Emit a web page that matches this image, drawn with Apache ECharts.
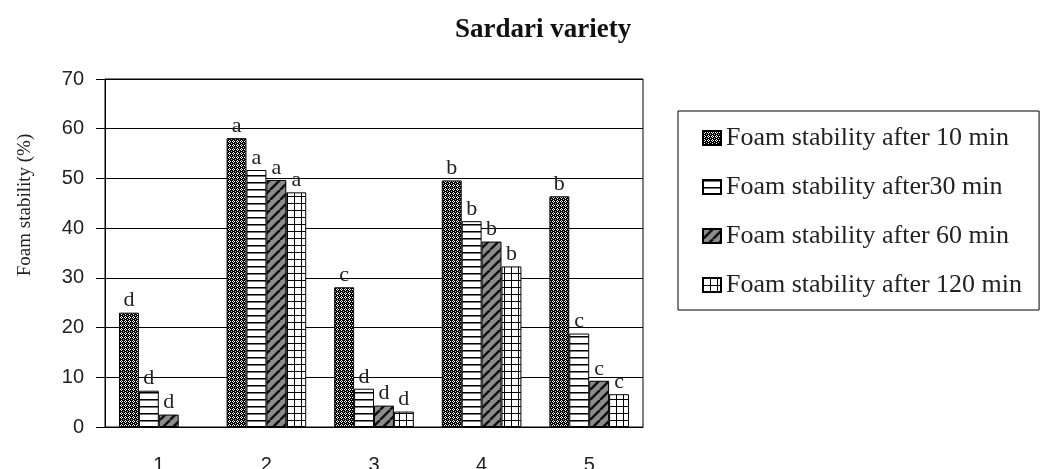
<!DOCTYPE html>
<html>
<head>
<meta charset="utf-8">
<script src="https://cdn.jsdelivr.net/npm/echarts@6/dist/echarts.min.js"></script>
<style>
  html, body { margin: 0; padding: 0; background: #fff; }
  #chart { width: 1045px; height: 469px; }
</style>
</head>
<body>
<div id="chart"></div>
<script>
const categories = ["1", "2", "3", "4", "5"];
const seriesNames = [
  "Foam stability after 10 min",
  "Foam stability after30 min",
  "Foam stability after 60 min",
  "Foam stability after 120 min"
];
const after10 = [23.0, 58.1, 28.1, 49.6, 46.4];
const after30 = [7.3, 51.7, 7.7, 41.4, 18.8];
const after60 = [2.5, 49.7, 4.3, 37.3, 9.3];
const after120 = [null, 47.2, 3.1, 32.3, 6.6];
const letters10 = ["d", "a", "c", "b", "b"];
const letters30 = ["d", "a", "d", "b", "c"];
const letters60 = ["d", "a", "d", "b", "c"];
const letters120 = ["", "a", "d", "b", "c"];

// fill patterns like the old excel hatches
function pattern(w, h, draw) {
  const c = document.createElement("canvas");
  c.width = w;
  c.height = h;
  draw(c.getContext("2d"), w, h);
  return { image: c, repeat: "repeat" };
}
const pat10 = pattern(4, 4, function (g) {
  g.fillStyle = "#000";
  g.fillRect(0, 0, 4, 4);
  g.fillStyle = "#fff";
  g.fillRect(1, 0, 1, 1);
  g.fillRect(0, 1, 1, 1);
  g.fillRect(2, 1, 1, 1);
  g.fillRect(1, 2, 1, 1);
  g.fillStyle = "#bbb";
  g.fillRect(3, 3, 1, 1);
});
const pat30 = pattern(4, 7, function (g) {
  g.fillStyle = "#fff";
  g.fillRect(0, 0, 4, 7);
  g.fillStyle = "#000";
  g.fillRect(0, 0, 4, 1);
  g.fillStyle = "#777";
  g.fillRect(0, 1, 4, 1);
});
const pat60 = pattern(10, 10, function (g, w, h) {
  g.fillStyle = "#8c8c8c";
  g.fillRect(0, 0, w, h);
  g.strokeStyle = "#111";
  g.lineWidth = 2.5;
  for (let x0 = -w; x0 <= w; x0 += w) {
    g.beginPath();
    g.moveTo(x0, h);
    g.lineTo(x0 + w, 0);
    g.stroke();
  }
});
const pat120 = pattern(7, 7, function (g) {
  g.fillStyle = "#fff";
  g.fillRect(0, 0, 7, 7);
  g.fillStyle = "#000";
  g.fillRect(0, 0, 7, 1);
  g.fillRect(0, 0, 1, 7);
});

const serif = "Liberation Serif";
const sans = "Liberation Sans";

function barSeries(name, values, letters, fill) {
  return {
    name: name,
    type: "bar",
    data: values,
    barGap: "0%",
    barCategoryGap: "26%",
    itemStyle: { color: fill, borderColor: "#000", borderWidth: 1 },
    label: {
      show: true,
      position: "top",
      distance: 1,
      fontFamily: serif,
      fontSize: 22,
      color: "#222",
      formatter: function (p) { return letters[p.dataIndex]; }
    }
  };
}

const chart = echarts.init(document.getElementById("chart"));
chart.setOption({
  animation: false,
  backgroundColor: "#fff",
  title: {
    text: "Sardari variety",
    left: 450,
    top: 12,
    textStyle: { fontFamily: serif, fontSize: 27, fontWeight: "bold", color: "#111" }
  },
  legend: {
    orient: "vertical",
    left: 678,
    top: 111,
    padding: [12, 17, 10, 24],
    borderColor: "#000",
    borderWidth: 1,
    itemWidth: 18,
    itemHeight: 14,
    itemGap: 19,
    icon: "rect",
    textStyle: { fontFamily: serif, fontSize: 26, color: "#222", lineHeight: 30 },
    data: seriesNames
  },
  grid: {
    left: 105, top: 79, width: 538, height: 348,
    outerBoundsMode: "none",
    show: true, borderColor: "#000", borderWidth: 1
  },
  xAxis: {
    type: "category",
    data: categories,
    axisLine: { lineStyle: { color: "#000", width: 1 } },
    axisTick: { length: 8, lineStyle: { color: "#000" } },
    axisLabel: { margin: 28, fontFamily: sans, fontSize: 20, color: "#222" }
  },
  yAxis: {
    type: "value",
    min: 0,
    max: 70,
    interval: 10,
    axisLine: { show: true, lineStyle: { color: "#000", width: 1 } },
    axisTick: { show: true, length: 9, lineStyle: { color: "#000" } },
    axisLabel: { margin: 21, fontFamily: sans, fontSize: 20, color: "#222" },
    splitLine: { lineStyle: { color: "#000", width: 1 } }
  },
  graphic: [{
    type: "text",
    x: 25,
    y: 205,
    rotation: Math.PI / 2,
    style: {
      text: "Foam stability (%)",
      fontFamily: serif,
      fontSize: 19,
      fill: "#222",
      align: "center",
      verticalAlign: "middle"
    }
  }],
  series: [
    barSeries(seriesNames[0], after10, letters10, pat10),
    barSeries(seriesNames[1], after30, letters30, pat30),
    barSeries(seriesNames[2], after60, letters60, pat60),
    barSeries(seriesNames[3], after120, letters120, pat120)
  ]
});
</script>
</body>
</html>
